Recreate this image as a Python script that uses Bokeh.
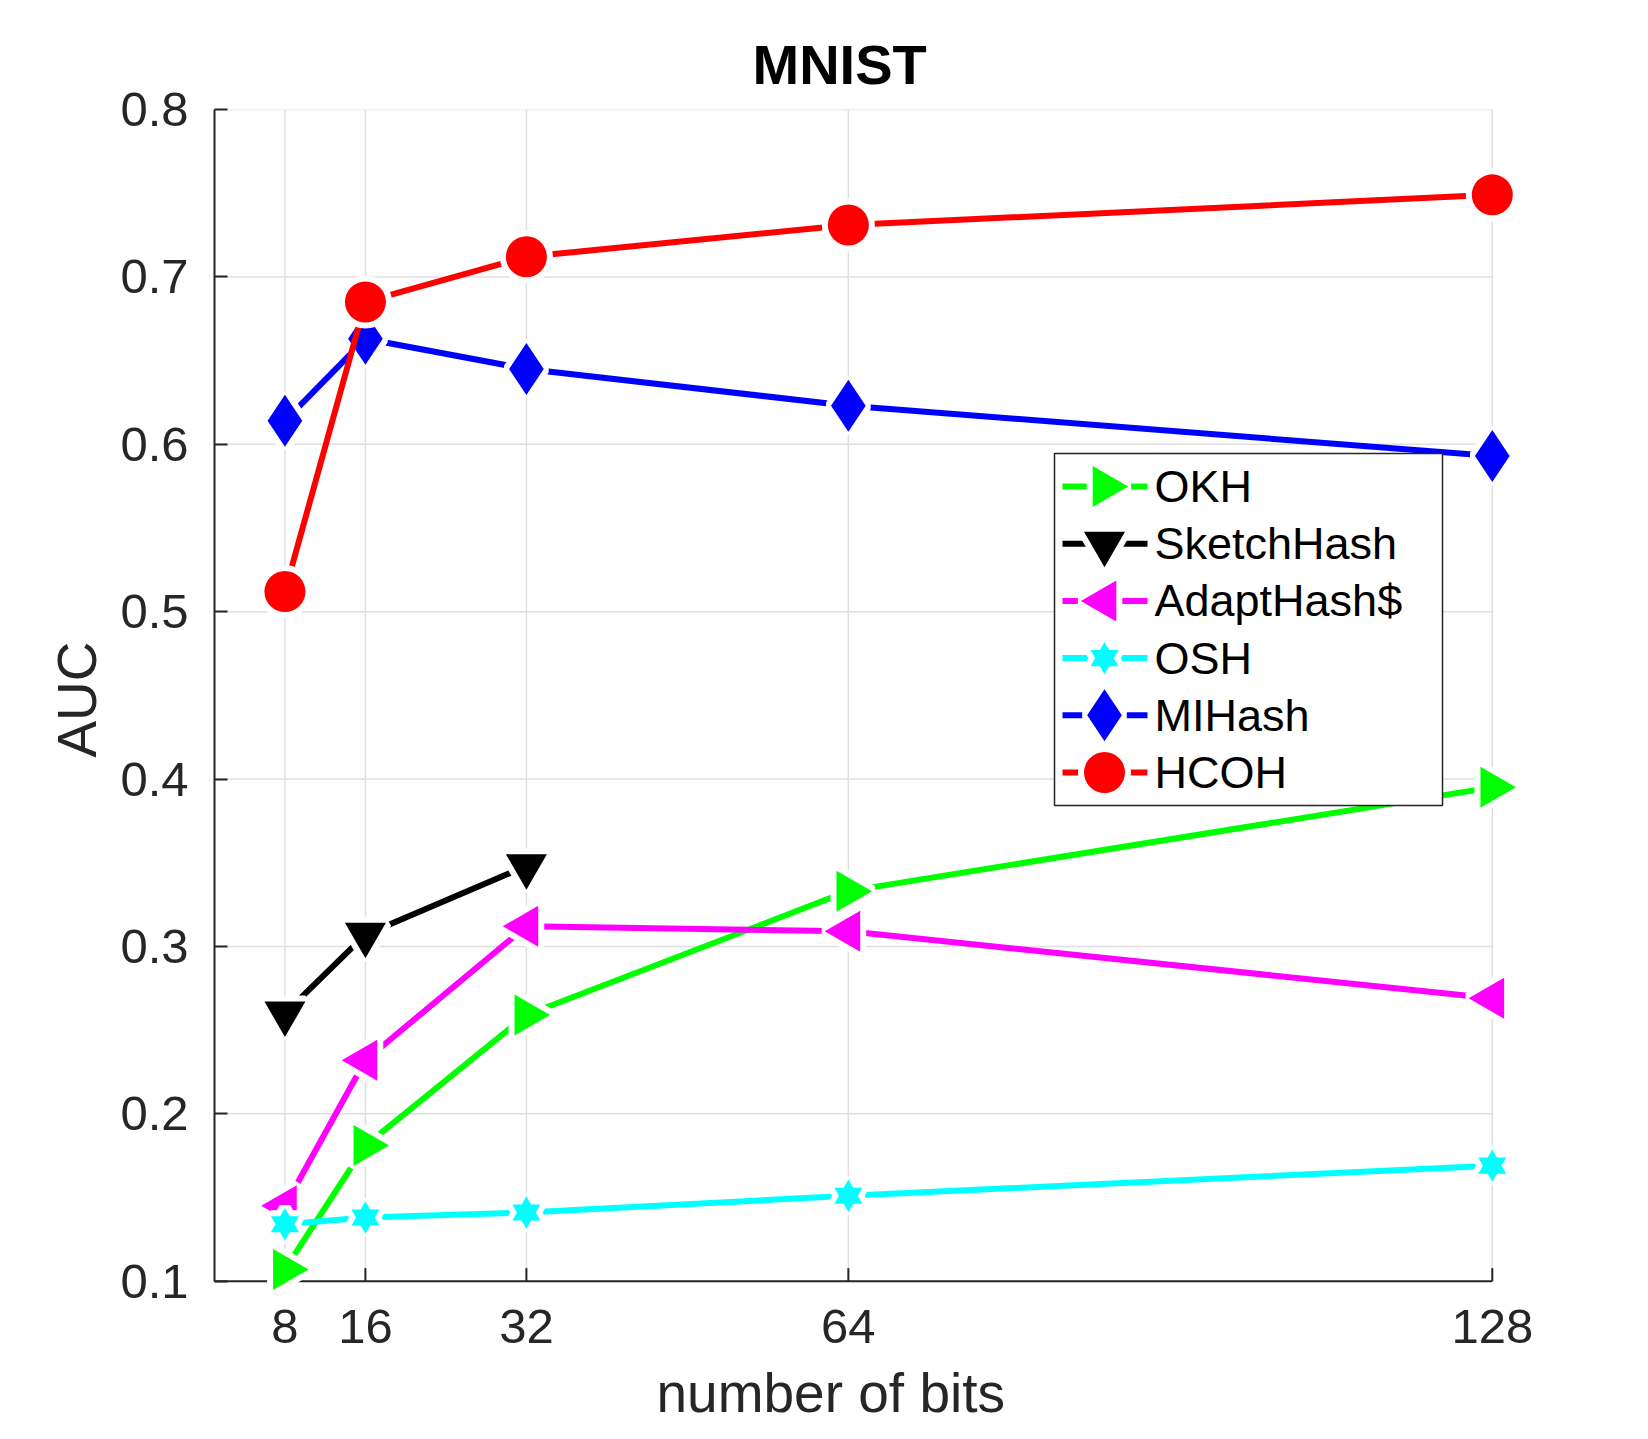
import numpy as np
from bokeh.plotting import figure
from bokeh.models import Range1d, FixedTicker, Title
from bokeh.core.properties import value
from bokeh.embed import file_html
from bokeh.resources import INLINE

# ---------------- data ----------------
bits = [8, 16, 32, 64, 128]
sketch_bits = [8, 16, 32]
okh = [0.107, 0.181, 0.259, 0.333, 0.395]
sketchhash = [0.260, 0.307, 0.348]
adapthash = [0.145, 0.232, 0.312, 0.309, 0.269]
osh = [0.134, 0.138, 0.141, 0.151, 0.169]
mihash = [0.614, 0.663, 0.645, 0.623, 0.593]
hcoh = [0.512, 0.685, 0.712, 0.731, 0.749]

names = ["OKH", "SketchHash", "AdaptHash$", "OSH", "MIHash", "HCOH"]
colors = ["#00ff00", "#000000", "#ff00ff", "#00ffff", "#0000ff", "#ff0000"]
y_ticks = [0.1, 0.2, 0.3, 0.4, 0.5, 0.6, 0.7, 0.8]
y_tick_labels = ["0.1", "0.2", "0.3", "0.4", "0.5", "0.6", "0.7", "0.8"]
x_tick_labels = ["8", "16", "32", "64", "128"]

xs = [bits, sketch_bits, bits, bits, bits, bits]
ys = [okh, sketchhash, adapthash, osh, mihash, hcoh]

# ---------------- style ----------------
FONT = "Liberation Sans"
AX = "#262626"
GRID = "#dfdfdf"
HALO = 12
LW = 6
marker_specs = [
    [("triangle", 41, -np.pi / 2)],
    [("inverted_triangle", 41, 0.0)],
    [("triangle", 41, np.pi / 2)],
    [("triangle", 28, 0.0), ("inverted_triangle", 28, 0.0)],
    [("diamond", 52, 0.0)],
    [("circle", 41, 0.0)],
]

X_LIM = (1, 128)
Y_LIM = (0.1, 0.8)
X0, X1 = 1, 131.5          # a little room on the right so edge markers are not clipped
Y0, Y1 = 0.095, 0.8        # a little room below for the same reason
FW, FH = 1313, 1180
PX_PER_Y = FH / (Y1 - Y0)
TICK_LEN = 13

p = figure(
    frame_width=FW, frame_height=FH,
    x_range=Range1d(X0, X1), y_range=Range1d(Y0, Y1),
    output_backend="svg", toolbar_location=None,
    min_border_left=214, min_border_top=109,
    min_border_right=90, min_border_bottom=140,
)
p.background_fill_color = "white"
p.border_fill_color = "white"
p.outline_line_color = None

# title
p.title.text = "MNIST"
p.title.text_font = FONT
p.title.text_font_size = "56px"
p.title.text_font_style = "bold"
p.title.text_color = "#000000"
p.title.align = "left"
p.title.offset = 538
p.title.standoff = 27

# axes
p.xaxis.ticker = FixedTicker(ticks=bits)
p.xaxis.major_label_overrides = dict(zip(bits, x_tick_labels))
p.yaxis.ticker = FixedTicker(ticks=y_ticks)
p.yaxis.major_label_overrides = dict(zip(y_ticks, y_tick_labels))
p.yaxis.bounds = Y_LIM
for ax in (p.xaxis, p.yaxis):
    ax.axis_line_color = AX
    ax.axis_line_width = 2
    ax.major_tick_line_color = AX
    ax.major_tick_line_width = 2
    ax.major_tick_in = TICK_LEN
    ax.major_tick_out = 0
    ax.minor_tick_line_color = None
    ax.major_label_text_font = FONT
    ax.major_label_text_font_size = "49px"
    ax.major_label_text_color = AX
    ax.axis_label_text_font = FONT
    ax.axis_label_text_font_size = "55px"
    ax.axis_label_text_font_style = "normal"
    ax.axis_label_text_color = AX
# the bottom axis line and its ticks are drawn at y = 0.1 below
p.xaxis.axis_line_color = None
p.xaxis.major_tick_line_color = None
p.yaxis.axis_label = "AUC"
p.xaxis.major_label_standoff = 20
p.yaxis.major_label_standoff = 26
p.yaxis.axis_label_standoff = 9

# x-axis label (placed as a below-title so it can sit left of the frame centre)
p.add_layout(Title(text="number of bits", align="left", offset=442,
                   vertical_align="top", standoff=32,
                   text_font=FONT, text_font_size="55px",
                   text_font_style="normal", text_color=AX), "below")

# grids drawn only inside the axes box
p.xgrid.visible = False
p.ygrid.visible = False
nx, ny = len(bits), len(y_ticks)
p.segment(x0=bits, x1=bits, y0=[Y_LIM[0]] * nx, y1=[Y_LIM[1]] * nx,
          line_color=GRID, line_width=1.5, level="underlay")
p.segment(x0=[X_LIM[0]] * ny, x1=[X_LIM[1]] * ny, y0=y_ticks, y1=y_ticks,
          line_color=GRID, line_width=1.5, level="underlay")
# bottom axis rule and inward ticks
p.segment(x0=[X_LIM[0]], x1=[X_LIM[1]], y0=[Y_LIM[0]], y1=[Y_LIM[0]],
          line_color=AX, line_width=2, level="underlay")
p.segment(x0=bits, x1=bits, y0=[Y_LIM[0]] * nx,
          y1=[Y_LIM[0] + TICK_LEN / PX_PER_Y] * nx,
          line_color=AX, line_width=2, level="underlay")


def draw_markers(x, y, specs, color, **kw):
    for m, s, a in specs:
        p.scatter(x, y, marker=m, size=s, angle=a, fill_color="white",
                  line_color="white", line_width=HALO, **kw)
    for m, s, a in specs:
        p.scatter(x, y, marker=m, size=s, angle=a, fill_color=color,
                  line_color=None, **kw)


# series
for x, y, c, spec in zip(xs, ys, colors, marker_specs):
    p.line(x, y, line_color=c, line_width=LW)
    draw_markers(x, y, spec, c)

# legend (frame pixel coordinates, y down)
p.extra_x_ranges = {"lg": Range1d(0, FW)}
p.extra_y_ranges = {"lg": Range1d(FH, 0)}
LG = dict(x_range_name="lg", y_range_name="lg")
p.quad(left=[840], right=[1228], top=[344], bottom=[696],
       fill_color="white", line_color=AX, line_width=1.5, **LG)
row0, step = 377, 57.2
for i, (n, c, spec) in enumerate(zip(names, colors, marker_specs)):
    ry = row0 + i * step
    p.line([848, 933], [ry, ry], line_color=c, line_width=LW, **LG)
    draw_markers([890], [ry], spec, c, **LG)
    p.text([940], [ry], text=[n], text_font=value(FONT), text_font_size="45px",
           text_baseline="middle", text_align="left", text_color="#000000", **LG)

open("out.html", "w").write(file_html(p, INLINE))
